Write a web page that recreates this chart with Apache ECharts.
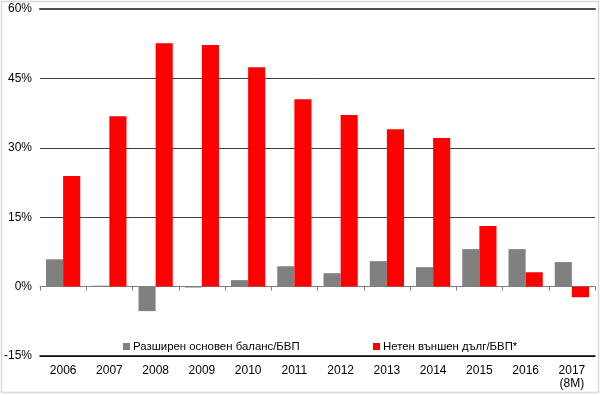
<!DOCTYPE html>
<html><head><meta charset="utf-8">
<script src="https://cdn.jsdelivr.net/npm/echarts@6/dist/echarts.min.js"></script>
<style>html,body{margin:0;padding:0;background:#fff}#c{width:601px;height:395px}</style>
</head><body><div id="c"></div>
<script>
const categories = ['2006','2007','2008','2009','2010','2011','2012','2013','2014','2015','2016','2017\n(8M)'];
const balanceName = 'Разширен основен баланс/БВП';
const debtName = 'Нетен външен дълг/БВП*';
const balance = [5.9, 0.2, -5.3, -0.2, 1.4, 4.4, 2.9, 5.5, 4.2, 8.1, 8.1, 5.3];
const debt = [23.9, 36.8, 52.6, 52.2, 47.4, 40.5, 37.1, 34.0, 32.1, 13.1, 3.1, -2.3];

const chart = echarts.init(document.getElementById('c'), null, {renderer:'canvas'});
const font = 'Liberation Sans, Arial, sans-serif';
chart.setOption({
  animation:false,
  textStyle:{fontFamily:font},
  graphic:[{type:'rect',shape:{x:1.5,y:1.5,width:597,height:391},style:{fill:'none',stroke:'#d9d9d9',lineWidth:1.5},silent:true}],
  grid:{left:40,right:6,top:9,bottom:39},
  legend:[
    {data:[balanceName],left:118,top:336,itemWidth:7,itemHeight:7,itemGap:0,icon:'rect',
     textStyle:{fontFamily:font,fontSize:11.4,color:'#000',padding:[0,0,0,-2]}},
    {data:[debtName],left:368,top:336,itemWidth:7,itemHeight:7,itemGap:0,icon:'rect',
     textStyle:{fontFamily:font,fontSize:11.4,color:'#000',padding:[0,0,0,-2]}}
  ],
  xAxis:[
    {type:'category',data:categories,position:'bottom',
     axisLine:{onZero:false,lineStyle:{color:'#000',width:1.5}},
     axisTick:{show:false},
     axisLabel:{color:'#000',fontSize:12,fontFamily:font,margin:8,lineHeight:13}},
    {type:'category',data:categories,position:'bottom',
     axisLine:{onZero:true,lineStyle:{color:'#808080',width:1}},
     axisTick:{show:true,length:4,lineStyle:{color:'#808080'}},
     axisLabel:{show:false}},
    {type:'category',data:categories,position:'top',
     axisLine:{onZero:false,lineStyle:{color:'#4d4d4d',width:2}},
     axisTick:{show:false},axisLabel:{show:false}}
  ],
  yAxis:{type:'value',min:-15,max:60,interval:15,
    axisLine:{show:false},axisTick:{show:false},
    axisLabel:{formatter:'{value}%',color:'#000',fontSize:12,fontFamily:font,margin:8},
    splitLine:{lineStyle:{color:'#404040',width:1}}},
  series:[
    {name:balanceName,type:'bar',data:balance,xAxisIndex:0,barGap:'0%',barCategoryGap:'26%',
     itemStyle:{color:'#808080'}},
    {name:debtName,type:'bar',data:debt,xAxisIndex:0,
     itemStyle:{color:'#ff0000'}}
  ]
});
</script></body></html>
